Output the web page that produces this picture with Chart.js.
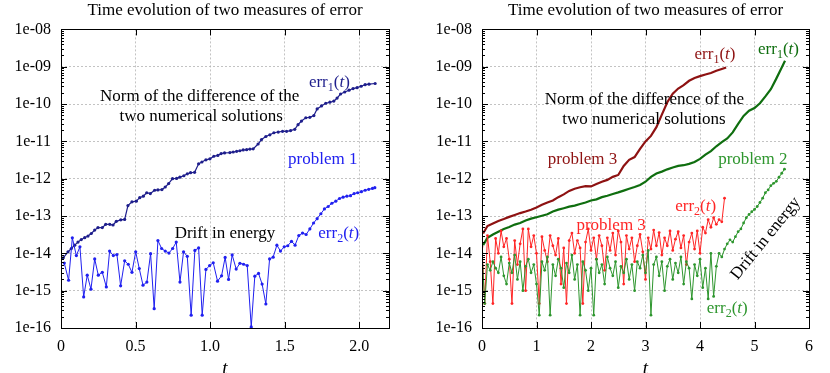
<!DOCTYPE html>
<html>
<head>
<meta charset="utf-8">
<script src="https://cdn.jsdelivr.net/npm/chart.js@4"></script>
<style>
html, body { margin: 0; padding: 0; background: #fff; }
#wrap { position: relative; width: 830px; height: 373px; }
canvas { position: absolute; top: 0; }
#left { left: 0; }
#right { left: 415px; }
</style>
</head>
<body>
<div id="wrap">
<canvas id="left" width="415" height="373"></canvas>
<canvas id="right" width="415" height="373"></canvas>
</div>
<script>
// ---- data ----
const yDecades = [1e-16, 1e-15, 1e-14, 1e-13, 1e-12, 1e-11, 1e-10, 1e-9, 1e-8];
const xTicksLeft = [0, 0.5, 1, 1.5, 2];
const xTicksRight = [0, 1, 2, 3, 4, 5, 6];

// problem 1, err1 (norm of the difference)
const tErr1P1 = [0.015,0.047,0.069,0.092,0.114,0.136,0.159,0.181,0.203,0.226,0.248,0.277,0.300,0.327,0.349,0.371,0.401,0.427,0.449,0.476,
  0.505,0.528,0.552,0.575,0.599,0.628,0.650,0.677,0.699,0.722,0.748,0.775,0.797,0.824,0.847,0.869,0.896,0.923,0.945,0.972,
  0.999,1.025,1.052,1.074,1.097,1.133,1.155,1.178,1.200,1.222,1.245,1.267,1.289,1.322,1.345,1.374,1.401,1.428,1.457,1.486,
  1.513,1.540,1.568,1.590,1.613,1.642,1.669,1.696,1.718,1.747,1.776,1.803,1.830,1.852,1.875,1.903,1.932,1.959,1.986,2.013,
  2.040,2.066,2.107];
const err1P1 = [7.6e-15,1.1e-14,1.35e-14,1.66e-14,2.0e-14,2.34e-14,2.63e-14,2.9e-14,3.4e-14,4.2e-14,4.9e-14,4.9e-14,6.0e-14,6.0e-14,5.75e-14,7.2e-14,7.9e-14,8.1e-14,1.9e-13,2.4e-13,
  2.5e-13,3.1e-13,3.4e-13,4.2e-13,4.0e-13,4.9e-13,5.0e-13,5.1e-13,6.0e-13,7.4e-13,1.0e-12,1.02e-12,1.1e-12,1.2e-12,1.35e-12,1.45e-12,1.48e-12,2.5e-12,2.8e-12,3.2e-12,
  3.4e-12,4.0e-12,4.2e-12,4.7e-12,4.9e-12,5.0e-12,5.2e-12,5.4e-12,5.6e-12,5.9e-12,6.0e-12,6.2e-12,6.3e-12,8.5e-12,1.12e-11,1.35e-11,1.5e-11,1.7e-11,1.78e-11,1.86e-11,
  1.86e-11,1.95e-11,2.1e-11,2.8e-11,3.5e-11,4.3e-11,4.4e-11,4.9e-11,7.4e-11,8.9e-11,1.05e-10,1.12e-10,1.2e-10,1.45e-10,1.86e-10,2.1e-10,2.35e-10,2.6e-10,2.75e-10,3.0e-10,
  3.3e-10,3.4e-10,3.55e-10];

// problem 1, err2 (drift in energy)
const tErr2P1 = [0.022,0.051,0.076,0.103,0.127,0.152,0.176,0.201,0.226,0.250,0.277,0.304,0.326,0.351,0.375,0.400,0.427,0.451,0.476,0.501,
  0.525,0.550,0.576,0.601,0.625,0.650,0.675,0.699,0.724,0.749,0.773,0.798,0.822,0.847,0.873,0.898,0.923,0.947,0.972,0.997,
  1.021,1.050,1.077,1.101,1.124,1.148,1.175,1.200,1.225,1.249,1.276,1.300,1.325,1.349,1.374,1.399,1.423,1.448,1.472,1.497,
  1.521,1.546,1.570,1.595,1.620,1.644,1.669,1.694,1.718,1.743,1.767,1.792,1.817,1.843,1.868,1.892,1.917,1.942,1.966,1.990,
  2.015,2.040,2.064,2.089,2.105];
const err2P1 = [5.5e-15,1.9e-15,2.6e-14,8.7e-15,1.5e-14,6.8e-16,2.6e-15,1.1e-15,7.1e-15,2.6e-15,3.1e-15,1.26e-15,1.15e-14,8.7e-15,9.3e-15,1.35e-15,6.3e-15,5.1e-15,3.1e-15,1.1e-14,
  3.9e-15,1.4e-15,1.7e-15,9.8e-15,3.3e-16,2.2e-14,1.35e-14,1.15e-14,1.02e-14,1.35e-14,2.0e-14,1.7e-15,1.1e-14,8.3e-15,2.2e-16,1.2e-14,1.4e-14,2.2e-16,3.7e-15,4.7e-15,
  5.6e-15,1.8e-15,2.5e-15,7.8e-15,2.0e-15,9.1e-15,3.8e-15,5.4e-15,5.1e-15,4.7e-15,1.07e-16,2.45e-15,2.9e-15,1.5e-15,4.4e-16,7.1e-15,7.9e-15,1.66e-14,1.15e-14,1.5e-14,
  1.6e-14,2.1e-14,1.66e-14,3.0e-14,3.5e-14,3.2e-14,4.5e-14,6.5e-14,8.5e-14,1.15e-13,1.55e-13,1.8e-13,2.2e-13,2.5e-13,2.95e-13,3.2e-13,3.4e-13,3.5e-13,4.0e-13,4.2e-13,
  4.5e-13,4.9e-13,5.2e-13,5.5e-13,5.75e-13];

// problem 3, err1
const tErr1P3 = [0.02,0.1,0.2,0.3,0.4,0.5,0.6,0.7,0.8,0.9,1.0,1.1,1.2,1.3,1.4,1.5,1.6,1.7,1.8,1.9,2.0,2.1,2.2,2.3,2.4,2.5,
  2.6,2.7,2.8,2.9,3.0,3.1,3.2,3.3,3.4,3.5,3.6,3.7,3.8,3.9,4.0,4.1,4.2,4.3,4.4,4.48];
const err1P3 = [3.4e-14,5.4e-14,6.3e-14,7.4e-14,8.3e-14,9.5e-14,1.07e-13,1.2e-13,1.32e-13,1.48e-13,1.7e-13,2.0e-13,2.3e-13,2.6e-13,3.2e-13,3.8e-13,4.7e-13,5.4e-13,5.9e-13,6.3e-13,6.2e-13,7.2e-13,8.3e-13,9.3e-13,1.12e-12,1.26e-12,
  2.2e-12,3.2e-12,3.8e-12,6.3e-12,1.0e-11,1.4e-11,2.4e-11,5.2e-11,1.12e-10,1.9e-10,2.6e-10,3.2e-10,4.2e-10,5.0e-10,5.6e-10,6.2e-10,6.8e-10,7.8e-10,8.7e-10,9.5e-10];

// problem 2, err1
const tErr1P2 = [0.02,0.1,0.2,0.3,0.4,0.5,0.6,0.7,0.8,0.9,1.0,1.1,1.2,1.3,1.4,1.5,1.6,1.7,1.8,1.9,2.0,2.1,2.2,2.3,2.4,2.5,2.6,2.7,2.8,2.9,
  3.0,3.1,3.2,3.3,3.4,3.5,3.6,3.7,3.8,3.9,4.0,4.1,4.2,4.3,4.4,4.5,4.6,4.7,4.8,4.9,5.0,5.1,5.2,5.3,5.4,5.5,5.56];
const err1P2 = [1.66e-14,2.6e-14,3.2e-14,3.8e-14,4.5e-14,5.1e-14,5.9e-14,6.5e-14,7.6e-14,8.5e-14,9.3e-14,1.02e-13,1.12e-13,1.32e-13,1.48e-13,1.62e-13,1.78e-13,1.9e-13,2.1e-13,2.3e-13,2.6e-13,2.8e-13,3.2e-13,3.5e-13,3.9e-13,4.3e-13,4.8e-13,5.4e-13,6.0e-13,6.8e-13,
  8.3e-13,1.12e-12,1.38e-12,1.55e-12,1.78e-12,2.0e-12,2.2e-12,2.3e-12,2.5e-12,2.8e-12,3.4e-12,4.4e-12,5.5e-12,7.4e-12,9.5e-12,1.2e-11,1.74e-11,2.95e-11,4.8e-11,6.6e-11,7.8e-11,1.05e-10,1.6e-10,2.5e-10,4.8e-10,9.5e-10,1.45e-9];

// problem 3, err2
const tErr2P3 = [0.00,0.05,0.10,0.15,0.20,0.25,0.30,0.35,0.40,0.45,0.50,0.55,0.60,0.65,0.70,0.75,0.80,0.85,0.90,0.95,
  1.00,1.05,1.10,1.15,1.20,1.25,1.30,1.35,1.40,1.45,1.50,1.55,1.60,1.65,1.70,1.75,1.80,1.85,1.90,1.95,
  2.00,2.05,2.10,2.15,2.20,2.25,2.30,2.35,2.40,2.45,2.50,2.55,2.60,2.65,2.70,2.75,2.80,2.85,2.90,2.95,
  3.00,3.05,3.10,3.15,3.20,3.25,3.30,3.35,3.40,3.45,3.50,3.55,3.60,3.65,3.70,3.75,3.80,3.85,3.90,3.95,
  4.00,4.05,4.10,4.15,4.20,4.25,4.30,4.35,4.40,4.45];
const err2P3 = [1.5e-14,4.5e-16,3.0e-14,6.0e-15,4.5e-16,2.5e-14,1.0e-14,4.0e-14,1.5e-14,2.5e-14,7.0e-15,4.5e-16,2.2e-14,5.0e-15,1.8e-14,4.5e-14,1.0e-15,4.5e-14,1.5e-14,3.0e-14,
  1.0e-14,4.5e-16,2.8e-14,1.2e-14,6.0e-15,3.0e-14,1.6e-14,9.0e-15,2.5e-14,1.5e-15,1.4e-14,4.5e-16,2.2e-14,3.5e-14,1.0e-14,2.2e-14,1.4e-14,4.5e-16,2.0e-14,4.5e-14,
  1.2e-14,2.6e-14,7.0e-15,3.0e-14,1.6e-14,3.5e-15,2.6e-14,1.2e-14,3.5e-14,9.0e-15,4.0e-14,2.0e-14,1.5e-15,3.0e-14,1.3e-14,2.6e-14,6.0e-15,1.6e-14,3.2e-14,1.1e-14,
  2.0e-15,2.6e-14,1.3e-14,4.2e-14,1.6e-14,3.6e-14,9.0e-15,2.6e-14,1.6e-14,4.0e-14,1.2e-14,2.4e-14,3.8e-14,1.4e-14,3.0e-14,5.0e-15,2.0e-14,3.5e-14,1.3e-14,4.0e-14,
  1.0e-14,5.0e-14,3.5e-14,8.0e-14,5.0e-14,9.0e-14,6.0e-14,8.0e-14,7.0e-14,3.0e-13];

// problem 2, err2
const tErr2P2 = [0.00,0.05,0.10,0.15,0.20,0.25,0.30,0.35,0.40,0.45,0.50,0.55,0.60,0.65,0.70,0.75,0.80,0.85,0.90,0.95,
  1.00,1.05,1.10,1.15,1.20,1.25,1.30,1.35,1.40,1.45,1.50,1.55,1.60,1.65,1.70,1.75,1.80,1.85,1.90,1.95,
  2.00,2.05,2.10,2.15,2.20,2.25,2.30,2.35,2.40,2.45,2.50,2.55,2.60,2.65,2.70,2.75,2.80,2.85,2.90,2.95,
  3.00,3.05,3.10,3.15,3.20,3.25,3.30,3.35,3.40,3.45,3.50,3.55,3.60,3.65,3.70,3.75,3.80,3.85,3.90,3.95,
  4.00,4.05,4.10,4.15,4.20,4.25,4.30,4.35,4.40,4.45,4.50,4.55,4.60,4.65,4.70,4.75,4.80,4.85,4.90,4.95,
  5.00,5.05,5.10,5.15,5.20,5.25,5.30,5.35,5.40,5.45,5.50,5.55];
const err2P2 = [1.0e-14,4.5e-16,5.0e-15,3.5e-15,6.0e-15,4.0e-15,3.0e-15,8.0e-15,2.5e-15,1.5e-15,5.5e-15,3.0e-15,9.0e-15,2.0e-15,6.0e-15,1.0e-15,4.5e-15,7.0e-15,3.0e-15,5.0e-15,
  1.5e-15,2.2e-16,6.0e-15,3.5e-15,8.0e-15,2.2e-16,5.0e-15,2.5e-15,7.0e-15,4.0e-15,1.2e-15,5.5e-15,3.0e-15,9.0e-15,2.0e-15,5.0e-15,2.2e-16,6.0e-15,3.5e-15,1.0e-15,
  4.0e-15,2.2e-16,7.0e-15,3.0e-15,5.0e-15,1.5e-15,8.0e-15,4.0e-15,2.5e-15,6.0e-15,1.2e-15,4.5e-15,3.0e-15,7.0e-15,2.0e-15,5.0e-15,1.0e-15,6.0e-15,4.0e-15,9.0e-15,
  3.0e-15,1.2e-14,2.2e-16,5.0e-15,8.0e-15,2.5e-15,6.0e-15,1.0e-15,4.5e-15,7.0e-15,2.0e-15,5.5e-15,3.0e-15,8.0e-15,1.5e-15,6.0e-15,4.0e-15,6.0e-16,5.0e-15,2.5e-15,
  7.0e-15,1.2e-15,4.0e-15,6.0e-16,1.0e-14,7.0e-16,4.5e-15,1.0e-14,8.0e-15,1.3e-14,1.8e-14,2.3e-14,2.0e-14,2.8e-14,3.8e-14,4.5e-14,6.5e-14,9.0e-14,1.1e-13,1.3e-13,
  1.5e-13,1.8e-13,2.3e-13,3.0e-13,4.2e-13,5.0e-13,6.5e-13,7.5e-13,8.5e-13,1.1e-12,1.4e-12,1.8e-12];

// ---- drawing ----
const SERIF = '"Liberation Serif", "DejaVu Serif", serif';

function pts(ts, vs) {
  return ts.map((t, i) => ({ x: t, y: vs[i] }));
}

function errLabel(n) {
  return [{ s: 'err' }, { s: n, sub: true }, { s: '(' }, { s: 't', it: true }, { s: ')' }];
}

// black box round the plot with gnuplot-like inward ticks
const framePlugin = {
  id: 'frame',
  afterDatasetsDraw(chart) {
    const { ctx, chartArea: a, scales: { x, y } } = chart;
    ctx.save();
    ctx.strokeStyle = '#000';
    ctx.lineWidth = 1;
    ctx.beginPath();
    x.ticks.forEach(tk => {
      const px = Math.round(x.getPixelForValue(tk.value)) + 0.5;
      ctx.moveTo(px, a.bottom); ctx.lineTo(px, a.bottom - 6);
      ctx.moveTo(px, a.top); ctx.lineTo(px, a.top + 6);
    });
    yDecades.forEach((d, i) => {
      const py = Math.round(y.getPixelForValue(d)) + 0.5;
      ctx.moveTo(a.left, py); ctx.lineTo(a.left + 6, py);
      ctx.moveTo(a.right, py); ctx.lineTo(a.right - 6, py);
      if (i < yDecades.length - 1) {
        for (let m = 2; m <= 9; m++) {
          const pm = Math.round(y.getPixelForValue(d * m)) + 0.5;
          ctx.moveTo(a.left, pm); ctx.lineTo(a.left + 3, pm);
          ctx.moveTo(a.right, pm); ctx.lineTo(a.right - 3, pm);
        }
      }
    });
    ctx.stroke();
    ctx.strokeRect(Math.round(a.left) + 0.5, Math.round(a.top) + 0.5,
      Math.round(a.right - a.left), Math.round(a.bottom - a.top));
    ctx.restore();
  }
};

// text labels placed in data coordinates
const notesPlugin = {
  id: 'notes',
  afterDraw(chart, args, opts) {
    const { ctx, scales: { x, y } } = chart;
    const size = 17;
    (opts.items || []).forEach(n => {
      const parts = typeof n.parts === 'string' ? [{ s: n.parts }] : n.parts;
      const fontOf = p => (p.it ? 'italic ' : '') + (p.sub ? 12 : size) + 'px ' + SERIF;
      let w = 0;
      parts.forEach(p => { ctx.font = fontOf(p); w += ctx.measureText(p.s).width; });
      ctx.save();
      ctx.translate(x.getPixelForValue(n.t), y.getPixelForValue(n.v));
      if (n.rot) ctx.rotate(n.rot * Math.PI / 180);
      ctx.fillStyle = n.color;
      ctx.textAlign = 'left';
      ctx.textBaseline = 'alphabetic';
      let cx = -w / 2;
      parts.forEach(p => {
        ctx.font = fontOf(p);
        ctx.fillText(p.s, cx, size * 0.33 + (p.sub ? 4 : 0));
        cx += ctx.measureText(p.s).width;
      });
      ctx.restore();
    });
  }
};

function makePanel(id, xMax, xTicks, yWidth, padRight, datasets, notes) {
  return new Chart(document.getElementById(id), {
    type: 'line',
    data: { datasets: datasets },
    options: {
      responsive: false,
      animation: false,
      devicePixelRatio: 1,
      layout: { padding: { left: 0, right: padRight, top: 0, bottom: 0 } },
      plugins: {
        legend: { display: false },
        tooltip: { enabled: false },
        title: {
          display: true,
          fullSize: false,
          text: 'Time evolution of two measures of error',
          color: '#000',
          font: { family: SERIF, size: 17, weight: 'normal' },
          padding: { top: 0, bottom: 9 }
        },
        notes: { items: notes }
      },
      scales: {
        x: {
          type: 'linear',
          min: 0,
          max: xMax,
          afterBuildTicks: s => { s.ticks = xTicks.map(v => ({ value: v })); },
          afterFit: s => { s.height = 45; },
          grid: { color: '#b4b4b4', lineWidth: 0.8, drawTicks: false },
          border: { display: false, dash: [2, 2] },
          ticks: { color: '#000', font: { family: SERIF, size: 16 }, padding: 9, maxRotation: 0 },
          title: { display: true, text: 't', color: '#000', font: { family: SERIF, size: 19, style: 'italic' }, padding: { top: 0, bottom: -7 } }
        },
        y: {
          type: 'logarithmic',
          min: 1e-16,
          max: 1e-8,
          afterBuildTicks: s => { s.ticks = yDecades.map(v => ({ value: v })); },
          afterFit: s => { s.width = yWidth; },
          grid: { color: '#b4b4b4', lineWidth: 0.8, drawTicks: false },
          border: { display: false, dash: [2, 2] },
          ticks: {
            color: '#000',
            font: { family: SERIF, size: 16 },
            padding: 10,
            callback: v => '1e-' + String(-Math.round(Math.log10(v))).padStart(2, '0')
          }
        }
      }
    },
    plugins: [framePlugin, notesPlugin]
  });
}

function series(data, color, width, radius) {
  return {
    data: data,
    borderColor: color,
    backgroundColor: color,
    borderWidth: width,
    pointRadius: radius,
    pointBorderWidth: 0,
    pointBackgroundColor: color,
    tension: 0
  };
}

const NAVY = '#1e1e8c', BLUE = '#2020f0';
const DARKRED = '#8e1212', RED = '#ff2626';
const DARKGREEN = '#0f6e0f', GREEN = '#2e962e';

makePanel('left', 2.2, xTicksLeft, 61, 26, [
  series(pts(tErr2P1, err2P1), BLUE, 1, 1.6),
  series(pts(tErr1P1, err1P1), NAVY, 1.2, 1.6)
], [
  { t: 0.93, v: 1.74e-10, parts: 'Norm of the difference of the', color: '#000' },
  { t: 0.94, v: 5.0e-11, parts: 'two numerical solutions', color: '#000' },
  { t: 1.80, v: 4.1e-10, parts: errLabel('1'), color: NAVY },
  { t: 1.756, v: 3.5e-12, parts: 'problem 1', color: BLUE },
  { t: 1.10, v: 3.7e-14, parts: 'Drift in energy', color: '#000' },
  { t: 1.863, v: 3.7e-14, parts: errLabel('2'), color: BLUE }
]);

makePanel('right', 6, xTicksRight, 67, 21, [
  series(pts(tErr2P2, err2P2), GREEN, 1, 1.4),
  series(pts(tErr2P3, err2P3), RED, 1, 1.4),
  series(pts(tErr1P2, err1P2), DARKGREEN, 2.2, 0),
  series(pts(tErr1P3, err1P3), DARKRED, 2.2, 0)
], [
  { t: 4.275, v: 2.3e-9, parts: errLabel('1'), color: DARKRED },
  { t: 5.44, v: 3.1e-9, parts: errLabel('1'), color: DARKGREEN },
  { t: 2.98, v: 1.43e-10, parts: 'Norm of the difference of the', color: '#000' },
  { t: 2.97, v: 4.2e-11, parts: 'two numerical solutions', color: '#000' },
  { t: 1.844, v: 3.5e-12, parts: 'problem 3', color: DARKRED },
  { t: 4.97, v: 3.5e-12, parts: 'problem 2', color: GREEN },
  { t: 3.92, v: 1.9e-13, parts: errLabel('2'), color: RED },
  { t: 2.37, v: 5.8e-14, parts: 'problem 3', color: RED },
  { t: 5.19, v: 2.6e-14, parts: 'Drift in energy', color: '#000', rot: -51 },
  { t: 4.50, v: 3.5e-16, parts: errLabel('2'), color: GREEN }
]);
</script>
</body>
</html>
